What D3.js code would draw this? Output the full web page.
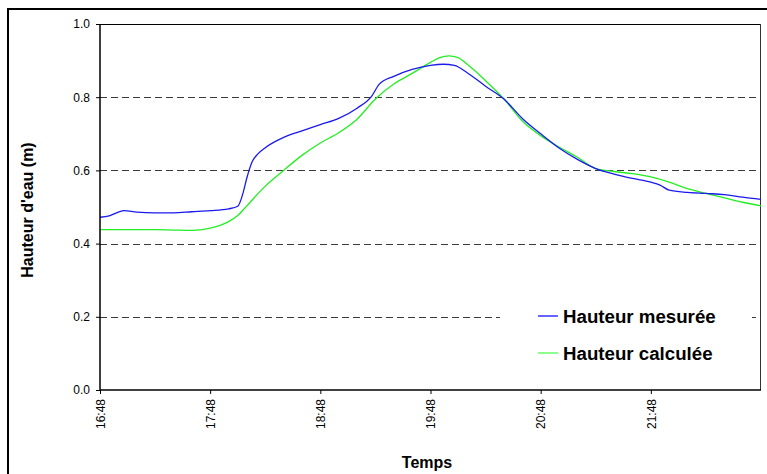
<!DOCTYPE html>
<html>
<head>
<meta charset="utf-8">
<script src="https://cdn.jsdelivr.net/npm/d3@7"></script>
<style>
  body { margin: 0; background: #fff; }
  text { font-family: Arial, "Liberation Sans", sans-serif; }
</style>
</head>
<body>
<div id="chart"></div>
<script>
// minutes after 16:48
var minutes = [0, 5, 10, 13, 20, 30, 40, 50, 60, 70, 75, 78, 80, 83, 86, 90, 100, 110, 120, 130, 140, 148, 152, 160, 170, 180, 187, 193, 200, 210, 220, 230, 240, 250, 260, 270, 280, 290, 300, 305, 310, 320, 330, 340, 350, 360];
var mesuree = [0.472, 0.476, 0.486, 0.490, 0.486, 0.484, 0.484, 0.487, 0.490, 0.495, 0.502, 0.540, 0.580, 0.625, 0.645, 0.662, 0.690, 0.708, 0.725, 0.742, 0.770, 0.803, 0.835, 0.857, 0.876, 0.887, 0.890, 0.887, 0.867, 0.830, 0.795, 0.742, 0.700, 0.661, 0.630, 0.605, 0.590, 0.578, 0.568, 0.560, 0.546, 0.540, 0.537, 0.534, 0.527, 0.521];

var minutesCalc = [0, 30, 40, 50, 60, 65, 70, 75, 80, 85, 90, 100, 110, 120, 130, 140, 150, 160, 170, 180, 185, 190, 195, 200, 210, 220, 230, 240, 250, 260, 270, 280, 290, 300, 310, 320, 330, 340, 350, 360];
var calculee = [0.438, 0.438, 0.437, 0.436, 0.442, 0.449, 0.460, 0.477, 0.503, 0.531, 0.557, 0.600, 0.641, 0.675, 0.703, 0.740, 0.795, 0.836, 0.865, 0.895, 0.908, 0.913, 0.908, 0.890, 0.845, 0.795, 0.735, 0.695, 0.664, 0.636, 0.605, 0.597, 0.591, 0.582, 0.568, 0.550, 0.537, 0.525, 0.513, 0.503];

var xTicks = ["16:48", "17:48", "18:48", "19:48", "20:48", "21:48"];
var yTicks = [0, 0.2, 0.4, 0.6, 0.8, 1.0];
var gridValues = [0.2, 0.4, 0.6, 0.8];

var margin = {top: 24, right: 6, bottom: 84, left: 100};
var W = 767, H = 474;
var width = W - margin.left - margin.right;
var height = H - margin.top - margin.bottom;

var svg = d3.select("#chart").append("svg")
  .attr("width", W)
  .attr("height", H);

// outer frame (clipped at right/bottom like the reference)
svg.append("rect")
  .attr("x", 8).attr("y", 9)
  .attr("width", 800).attr("height", 500)
  .attr("fill", "none")
  .attr("stroke", "#000")
  .attr("stroke-width", 2);

var g = svg.append("g")
  .attr("transform", "translate(" + margin.left + "," + margin.top + ")");

var parse = d3.timeParse("%H:%M");
var t0 = parse("16:48");
var x = d3.scaleTime()
  .domain([t0, d3.timeMinute.offset(t0, 360)])
  .range([0, width]);
var y = d3.scaleLinear().domain([0, 1]).range([height, 0]);

// plot border top/right
g.append("line").attr("x1", 0).attr("x2", width).attr("y1", 0.5).attr("y2", 0.5)
  .attr("stroke", "#000").attr("stroke-width", 1);
g.append("line").attr("x1", width - 0.5).attr("x2", width - 0.5).attr("y1", 0).attr("y2", height)
  .attr("stroke", "#333").attr("stroke-width", 1);

// dashed gridlines
g.selectAll(".grid")
  .data(gridValues)
  .enter().append("line")
  .attr("class", "grid")
  .attr("x1", 0).attr("x2", width)
  .attr("y1", function(d) { return Math.round(y(d)) + 0.5; })
  .attr("y2", function(d) { return Math.round(y(d)) + 0.5; })
  .attr("stroke", "#3a3a3a")
  .attr("stroke-width", 1)
  .attr("stroke-dasharray", "7,4");

var line = d3.line()
  .x(function(d) { return x(d3.timeMinute.offset(t0, d[0])); })
  .y(function(d) { return y(d[1]); })
  .curve(d3.curveMonotoneX);

g.append("path")
  .datum(d3.zip(minutesCalc, calculee))
  .attr("fill", "none")
  .attr("stroke", "#22ee22")
  .attr("stroke-width", 1.3)
  .attr("d", line);

g.append("path")
  .datum(d3.zip(minutes, mesuree))
  .attr("fill", "none")
  .attr("stroke", "#1a1aee")
  .attr("stroke-width", 1.3)
  .attr("d", line);

// axes
var yAxis = g.append("g")
  .call(d3.axisLeft(y).tickValues(yTicks).tickFormat(d3.format(".1f")).tickSize(4).tickPadding(6));
var xAxis = g.append("g")
  .attr("transform", "translate(0," + height + ")")
  .call(d3.axisBottom(x)
    .tickValues(xTicks.map(function(s) { return parse(s); }))
    .tickFormat(d3.timeFormat("%H:%M"))
    .tickSize(4));

[yAxis, xAxis].forEach(function(a) {
  a.select(".domain").attr("stroke", "#000").attr("stroke-width", 1.5);
  a.selectAll(".tick line").attr("stroke", "#000");
  a.selectAll("text").attr("font-size", "12px").attr("fill", "#000")
    .attr("font-family", "Arial, 'Liberation Sans', sans-serif");
});
yAxis.select(".domain").attr("d", "M0," + height + "V0");
xAxis.select(".domain").attr("d", "M0,0H" + width);

xAxis.selectAll("text")
  .attr("transform", "rotate(-90)")
  .attr("text-anchor", "end")
  .attr("dy", "0.35em")
  .attr("x", -9)
  .attr("y", 0);

// axis titles
svg.append("text")
  .attr("x", 427).attr("y", 468)
  .attr("text-anchor", "middle")
  .attr("font-size", "16px").attr("font-weight", "bold")
  .text("Temps");

svg.append("text")
  .attr("transform", "translate(33,210) rotate(-90)")
  .attr("text-anchor", "middle")
  .attr("font-size", "16px").attr("font-weight", "bold")
  .text("Hauteur d'eau (m)");

// legend
var legend = svg.append("g");
legend.append("rect")
  .attr("x", 500).attr("y", 296)
  .attr("width", 252).attr("height", 78)
  .attr("fill", "#fff");

var legendItems = [
  {label: "Hauteur mesurée", color: "#3333ff", cy: 316},
  {label: "Hauteur calculée", color: "#66ff66", cy: 353}
];
legendItems.forEach(function(d) {
  legend.append("line")
    .attr("x1", 538).attr("x2", 558)
    .attr("y1", d.cy).attr("y2", d.cy)
    .attr("stroke", d.color).attr("stroke-width", 1.5);
  legend.append("text")
    .attr("x", 563).attr("y", d.cy)
    .attr("dy", "0.35em")
    .attr("font-size", "18.7px").attr("font-weight", "bold")
    .text(d.label);
});
</script>
</body>
</html>
